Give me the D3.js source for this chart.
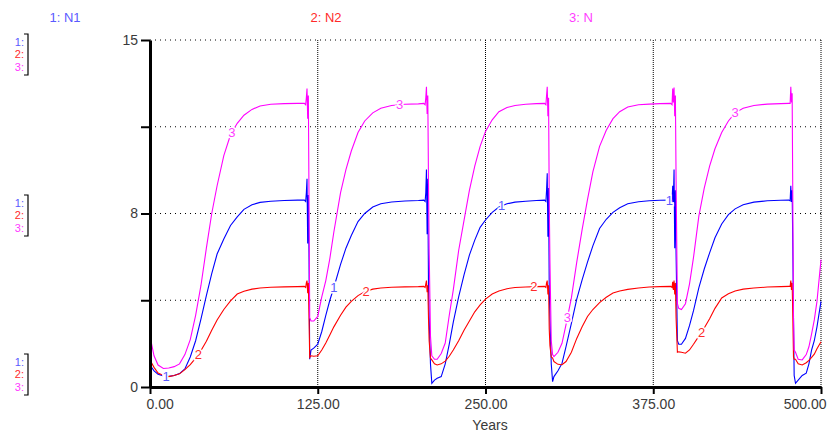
<!DOCTYPE html>
<html>
<head>
<meta charset="utf-8">
<script src="https://cdnjs.cloudflare.com/ajax/libs/d3/7.8.5/d3.min.js"></script>
<style>
  body { margin: 0; background: #fff; }
  text { font-family: "Liberation Sans", Arial, sans-serif; }
</style>
</head>
<body>
<div id="chart"></div>
<script>
// time (years) shared by the three series, one row per cycle / crash
var years = [
  0, 3, 6, 10, 14, 18, 22, 26, 30, 34, 38, 42, 46, 50, 55, 60, 65, 70, 76, 82, 90, 100, 110,
  115, 116, 116.5, 117, 117.5, 118, 118.5, 119, 120,
  122, 125, 128, 131, 134, 137, 142, 146, 150, 155, 160, 166, 172, 180, 190, 200, 204,
  205, 205.5, 206, 206.5, 207, 207.5, 208, 209,
  210, 212, 214, 217, 220, 223, 226, 230, 234, 238, 242, 246, 250, 255, 260, 266, 272, 280, 288, 294,
  295, 295.5, 296, 296.5, 297, 297.5, 298, 299,
  300, 301, 304, 307, 310, 314, 318, 322, 326, 330, 335, 340, 345, 350, 356, 364, 372, 380, 388,
  389, 389.5, 390, 390.5, 391, 391.5, 392, 393, 394,
  396, 399, 402, 405, 409, 413, 417, 421, 426, 431, 436, 442, 450, 460, 470, 476,
  477, 477.5, 478, 478.5, 479, 479.5, 480,
  481, 483, 486, 489, 491, 493, 495, 497, 500
];

var n1 = [
  0.95, 0.7, 0.55, 0.48, 0.46, 0.5, 0.58, 0.78, 1.3, 2.0, 2.95, 3.95, 4.9, 5.75, 6.4, 6.98, 7.35, 7.68, 7.88, 7.98, 8.03, 8.06, 8.08,
  8.08, 8.02, 8.4, 9.0, 6.2, 8.3, 5.6, 1.2, 1.6,
  1.68, 1.85, 2.4, 3.1, 3.75, 4.3, 5.3, 6.0, 6.55, 7.15, 7.5, 7.78, 7.92, 8.0, 8.04, 8.06, 8.08,
  8.02, 8.4, 9.4, 6.6, 9.0, 4.5, 3.0, 1.0,
  0.16, 0.3, 0.38, 0.45, 1.0, 1.85, 2.8, 3.9, 4.85, 5.7, 6.35, 6.9, 7.22, 7.55, 7.78, 7.92, 7.99, 8.03, 8.06, 8.08,
  8.02, 8.5, 9.24, 6.5, 8.6, 4.2, 3.0, 1.0,
  0.23, 0.45, 0.7, 1.02, 1.75, 2.75, 3.8, 4.63, 5.4, 6.1, 6.85, 7.25, 7.55, 7.75, 7.92, 8.01, 8.05, 8.07, 8.08,
  8.02, 8.7, 8.0, 9.4, 6.0, 8.5, 5.8, 2.0, 1.85,
  1.85, 2.1, 2.65, 3.3, 4.3, 5.1, 5.8, 6.45, 7.05, 7.45, 7.7, 7.88, 7.99, 8.05, 8.07, 8.08,
  8.05, 8.7, 8.0, 8.5, 6.0, 3.0, 0.5,
  0.16, 0.3, 0.5, 0.6, 1.0, 1.6, 2.0, 2.6, 3.7
];

var n2 = [
  1.17, 0.85, 0.6, 0.5, 0.45, 0.5, 0.57, 0.75, 0.97, 1.25, 1.58, 1.98, 2.45, 2.9, 3.35, 3.72, 4.02, 4.14, 4.23, 4.28, 4.31, 4.33, 4.34,
  4.35, 4.3, 4.5, 4.6, 4.05, 4.5, 3.0, 1.28, 1.35,
  1.33, 1.35, 1.6, 1.9, 2.25, 2.6, 3.1, 3.45, 3.7, 3.95, 4.12, 4.23, 4.28, 4.31, 4.33, 4.34, 4.35,
  4.3, 4.45, 4.6, 4.1, 4.4, 3.0, 2.0, 1.25,
  1.17, 1.0, 0.95, 1.0, 1.12, 1.33, 1.6, 2.0, 2.45, 2.85, 3.25, 3.55, 3.8, 4.02, 4.15, 4.25, 4.3, 4.32, 4.34, 4.35,
  4.3, 4.5, 4.6, 4.0, 4.4, 2.5, 1.8, 1.3,
  1.25, 1.1, 0.98, 0.96, 1.1, 1.5, 2.1, 2.6, 3.05, 3.35, 3.65, 3.88, 4.06, 4.15, 4.22, 4.28, 4.32, 4.34, 4.35,
  4.3, 4.55, 4.2, 4.6, 4.0, 4.5, 3.0, 1.5, 1.52,
  1.5, 1.46, 1.6, 1.85, 2.2, 2.55, 2.95, 3.4, 3.85, 4.03, 4.15, 4.23, 4.28, 4.32, 4.34, 4.35,
  4.35, 4.6, 4.2, 4.5, 3.0, 1.3, 1.2,
  1.2, 1.0, 0.95, 1.05, 1.15, 1.28, 1.42, 1.65, 1.96
];

var n = [
  2.2, 1.35, 0.95, 0.8, 0.82, 0.88, 1.0, 1.4, 2.05, 3.1, 4.4, 6.0, 7.5, 8.7, 10.0, 10.9, 11.4, 11.75, 12.0, 12.15, 12.22, 12.25, 12.26,
  12.26, 12.2, 12.5, 12.9, 11.6, 12.6, 8.0, 3.0, 2.85,
  2.85, 3.05, 3.9, 4.6, 5.55, 6.7, 8.4, 9.4, 10.2, 11.0, 11.5, 11.85, 12.05, 12.17, 12.22, 12.24, 12.26,
  12.2, 12.5, 12.98, 11.8, 12.6, 9.0, 6.0, 2.2,
  1.35, 1.2, 1.2, 1.45, 1.9, 3.1, 4.2, 5.9, 7.2, 8.5, 9.55, 10.4, 11.05, 11.55, 11.9, 12.08, 12.17, 12.22, 12.25, 12.26,
  12.2, 12.6, 12.98, 11.7, 12.5, 8.0, 5.5, 2.0,
  1.4, 1.31, 1.5, 1.89, 2.7, 3.85, 5.4, 6.8, 8.1, 9.3, 10.4, 11.1, 11.6, 11.9, 12.1, 12.2, 12.23, 12.25, 12.26,
  12.2, 12.9, 12.3, 12.95, 11.7, 12.6, 9.0, 3.6, 3.4,
  3.35, 3.6, 4.45, 5.6, 7.4, 8.6, 9.55, 10.3, 11.0, 11.5, 11.85, 12.05, 12.17, 12.23, 12.25, 12.26,
  12.26, 12.98, 12.3, 12.7, 8.0, 3.0, 1.6,
  1.5, 1.2, 1.17, 1.4, 1.74, 2.3, 2.9, 3.7, 5.5
];

var seriesNames = ["N1", "N2", "N"];
var yTicks = [0, 3.75, 7.5, 11.25, 15];
var yLabelled = [0, 7.5, 15];
var xTicks = [0, 125, 250, 375, 500];
// year of the first number label on each curve, repeated every 125 years
var labelYears = [12, 36, 61];

function init()
{
    var w = 828;
    var h = 436;
    var left = 150, right = 821, top = 40, bottom = 387;

    var lineColors = ["#0000ff", "#ff0000", "#ff00ff"];
    var textColors = ["#5a5aff", "#ff2a2a", "#ff3cff"];
    var values = [n1, n2, n];

    var x = d3.scaleLinear().domain([0, 500]).range([left, right]);
    var y = d3.scaleLinear().domain([0, 15]).range([bottom, top]);

    var svg = d3.select("#chart")
                .append("svg")
                .attr("width", w)
                .attr("height", h);

    // dotted grid
    svg.append("g")
        .selectAll("line")
        .data(yTicks.slice(1))
        .enter()
        .append("line")
        .attr("x1", left)
        .attr("x2", right)
        .attr("y1", function(d) { return y(d); })
        .attr("y2", function(d) { return y(d); })
        .style("stroke", "#000")
        .style("stroke-width", 1)
        .style("stroke-dasharray", "1,4");

    svg.append("g")
        .selectAll("line")
        .data(xTicks.slice(1))
        .enter()
        .append("line")
        .attr("x1", function(d) { return x(d); })
        .attr("x2", function(d) { return x(d); })
        .attr("y1", top)
        .attr("y2", bottom)
        .style("stroke", "#000")
        .style("stroke-width", 1)
        .style("stroke-dasharray", "1,1");

    // series
    var line = d3.line()
        .x(function(d, i) { return x(years[i]); })
        .y(function(d) { return y(d); });

    values.forEach(function(v, k) {
        svg.append("path")
            .attr("d", line(v))
            .style("fill", "none")
            .style("stroke", lineColors[k])
            .style("stroke-width", 1.1);
    });

    // number labels sitting on the curves
    var bis = d3.bisector(function(d) { return d; }).left;
    function valueAt(v, t) {
        var i = bis(years, t);
        if (i <= 0) return v[0];
        var t0 = years[i - 1], t1 = years[i];
        return v[i - 1] + (v[i] - v[i - 1]) * (t - t0) / (t1 - t0);
    }
    values.forEach(function(v, k) {
        var ts = d3.range(labelYears[k], 500, 125);
        svg.append("g")
            .selectAll("text")
            .data(ts)
            .enter()
            .append("text")
            .attr("x", function(t) { return x(t); })
            .attr("y", function(t) { return y(valueAt(v, t)); })
            .attr("dy", "0.35em")
            .attr("text-anchor", "middle")
            .style("font-size", "13px")
            .style("fill", textColors[k])
            .style("stroke", "#fff")
            .style("stroke-width", 3)
            .style("paint-order", "stroke")
            .text(k + 1);
    });

    // axes
    var yAxis = d3.axisLeft(y)
        .tickValues(yTicks)
        .tickSize(9)
        .tickSizeOuter(0)
        .tickPadding(3)
        .tickFormat(function(d) { return yLabelled.indexOf(d) >= 0 ? d3.format(".0f")(d) : ""; });

    var gy = svg.append("g")
        .attr("transform", "translate(" + left + ",0)")
        .call(yAxis);

    var xAxis = d3.axisBottom(x)
        .tickValues(xTicks)
        .tickSize(7)
        .tickSizeOuter(0)
        .tickPadding(5)
        .tickFormat(d3.format(".2f"));

    var gx = svg.append("g")
        .attr("transform", "translate(0," + bottom + ")")
        .call(xAxis);

    [gx, gy].forEach(function(g) {
        g.select(".domain").style("stroke", "#000").style("stroke-width", 3);
        g.selectAll(".tick line").style("stroke", "#000").style("stroke-width", 2);
        g.selectAll(".tick text")
            .style("font-family", "'Liberation Sans', Arial, sans-serif")
            .style("font-size", "14px")
            .style("fill", "#3a3a3a");
    });

    gx.selectAll(".tick text")
        .attr("text-anchor", function(d) {
            if (d === 0) return "start";
            if (d === 500) return "end";
            return "middle";
        })
        .attr("dx", function(d) {
            if (d === 0) return -4;
            if (d === 500) return 5;
            return 0;
        });

    svg.append("text")
        .attr("x", 490)
        .attr("y", 430)
        .attr("text-anchor", "middle")
        .style("font-size", "14px")
        .style("fill", "#3a3a3a")
        .text("Years");

    // series names along the top
    var titleX = [65, 326, 581];
    svg.selectAll(".title")
        .data(seriesNames)
        .enter()
        .append("text")
        .attr("class", "title")
        .attr("x", function(d, i) { return titleX[i]; })
        .attr("y", 22)
        .attr("text-anchor", "middle")
        .style("font-size", "13px")
        .style("fill", function(d, i) { return textColors[i]; })
        .text(function(d, i) { return (i + 1) + ": " + d; });

    // scale keys on the left
    var keyTops = [34, 195, 354];
    keyTops.forEach(function(t) {
        var bracketH = 41;
        svg.append("path")
            .attr("d", "M24," + t + "H28V" + (t + bracketH) + "H24")
            .style("fill", "none")
            .style("stroke", "#000")
            .style("stroke-width", 1.2);
        for (var k = 0; k < 3; k++) {
            svg.append("text")
                .attr("x", 24)
                .attr("y", t + 8 + k * 12.5)
                .attr("dy", "0.35em")
                .attr("text-anchor", "end")
                .style("font-size", "11px")
                .style("fill", textColors[k])
                .text((k + 1) + ":");
        }
    });
}
window.onload = init;
</script>
</body>
</html>
